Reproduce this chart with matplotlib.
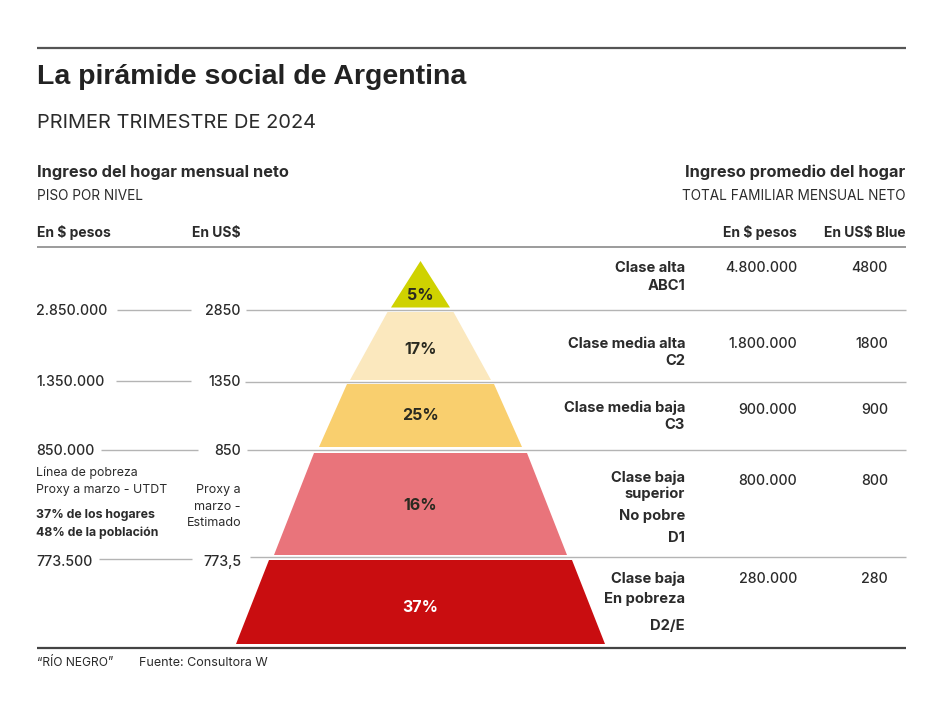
import matplotlib
matplotlib.use("Agg")
import matplotlib.pyplot as plt
from matplotlib.patches import Polygon

# ---- data
shares = [5, 17, 25, 16, 37]
floor_pesos = ["2.850.000", "1.350.000", "850.000", "773.500"]
floor_usd = ["2850", "1350", "850", "773,5"]
avg_pesos = ["4.800.000", "1.800.000", "900.000", "800.000", "280.000"]
avg_usd = ["4800", "1800", "900", "800", "280"]

# ---- layout (figure pixels)
W, H = 939, 719
colors = ["#CFD200", "#FBE8BE", "#F9CF6E", "#E9747B", "#C90D10"]
text_colors = ["#2a2a20", "#2a2a20", "#2a2a20", "#2a2a20", "#ffffff"]
cx = 420.5
band_y = [(261, 307.5), (312, 380), (384, 447), (453, 555), (560, 644)]
band_hw = [(0, 29.5), (33, 70.5), (73.5, 101.5), (106.5, 146.5), (151.5, 184.5)]
label_y = [293, 347, 414, 504, 606]
rule_y = [309.5, 381.5, 450, 557]
rule_x0 = [246, 245, 247, 250]
left_seg = [(117, 191), (116, 191), (101, 198), (99, 192)]
left_seg_y = [309.5, 381, 450, 558.5]
floor_text_y = [310, 381, 450, 561]
avg_y = [267, 343, 409, 480, 578]

DARK = "#2b2b2b"
GREY = "#b4b4b4"
SANS = "Inter"
HEAD = "Liberation Sans"

fig = plt.figure(figsize=(W / 100, H / 100), dpi=100, facecolor="white")
ax = fig.add_axes([0, 0, 1, 1])
ax.set_xlim(0, W)
ax.set_ylim(H, 0)
ax.axis("off")


def t(x, y, s, size=10, weight="medium", ha="left", color=DARK, family=SANS, **kw):
    ax.text(x, y + 2, s, fontsize=size, fontweight=weight, ha=ha, va="center",
            color=color, family=family, **kw)


def rule(x0, x1, y, color=GREY, lw=1.0):
    ax.plot([x0, x1], [y, y], color=color, lw=lw, solid_capstyle="butt", zorder=1)


# rules
rule(37, 906, 48, "#555555", 1.6)
rule(37, 906, 247, "#8a8a8a", 1.2)
rule(37, 906, 648, "#444444", 1.6)
for y, x0, (a, b), ly in zip(rule_y, rule_x0, left_seg, left_seg_y):
    rule(x0, 906, y)
    rule(a, b, ly)

# pyramid
for share, (y0, y1), (w0, w1), c, tc, ly in zip(shares, band_y, band_hw, colors, text_colors, label_y):
    ax.add_patch(Polygon([(cx - w0, y0), (cx + w0, y0), (cx + w1, y1), (cx - w1, y1)],
                         closed=True, facecolor=c, edgecolor="none", zorder=2))
    t(cx, ly, f"{share}%", size=11.5, weight="bold", ha="center", color=tc, zorder=3)

# headings
t(37, 75, "La pirámide social de Argentina", size=20.5, weight="bold", family=HEAD, color="#222222")
t(37, 121, "PRIMER TRIMESTRE DE 2024", size=14.4, weight="normal")
t(37, 170, "Ingreso del hogar mensual neto", size=11.8, weight="bold")
t(37, 193.5, "PISO POR NIVEL", size=9.8, weight="normal")
t(905, 170, "Ingreso promedio del hogar", size=11.8, weight="bold", ha="right")
t(906, 193.5, "TOTAL FAMILIAR MENSUAL NETO", size=9.8, weight="normal", ha="right")
t(37, 230.5, "En \\$ pesos", size=10, weight="bold")
t(241, 230.5, "En US\\$", size=10, weight="bold", ha="right")
t(797, 230.5, "En \\$ pesos", size=10, weight="bold", ha="right")
t(906, 230.5, "En US\\$ Blue", size=10, weight="bold", ha="right")

# left columns
for p, u, y in zip(floor_pesos, floor_usd, floor_text_y):
    t(36, y - 1, p, size=10.2, weight="medium")
    t(241, y - 1, u, size=10.2, weight="medium", ha="right")
t(36, 471, "Línea de pobreza", size=8.9, weight="normal")
t(36, 488, "Proxy a marzo - UTDT", size=8.9, weight="normal")
t(36, 513, "37% de los hogares", size=8.9, weight="bold")
t(36, 531, "48% de la población", size=8.9, weight="bold")
t(241, 488.5, "Proxy a", size=9.0, weight="normal", ha="right")
t(241, 505, "marzo -", size=9.0, weight="normal", ha="right")
t(241, 521, "Estimado", size=9.0, weight="normal", ha="right")

# class labels
labels = [("Clase alta", 266), ("ABC1", 284), ("Clase media alta", 342), ("C2", 359),
          ("Clase media baja", 406), ("C3", 423), ("Clase baja", 476), ("superior", 492),
          ("No pobre", 514), ("D1", 536), ("Clase baja", 577), ("En pobreza", 597), ("D2/E", 624)]
for s, y in labels:
    t(685, y, s, size=10.6, weight="bold", ha="right")

# right columns
for p, u, y in zip(avg_pesos, avg_usd, avg_y):
    t(797, y - 1, p, size=10.2, weight="medium", ha="right")
    t(888, y - 1, u, size=10.2, weight="medium", ha="right")

# footer
t(37, 661.5, "“RÍO NEGRO”", size=8.7, weight="normal")
t(139, 661.5, "Fuente: Consultora W", size=9.0, weight="normal")

fig.savefig("out.png", dpi=100, facecolor="white")
